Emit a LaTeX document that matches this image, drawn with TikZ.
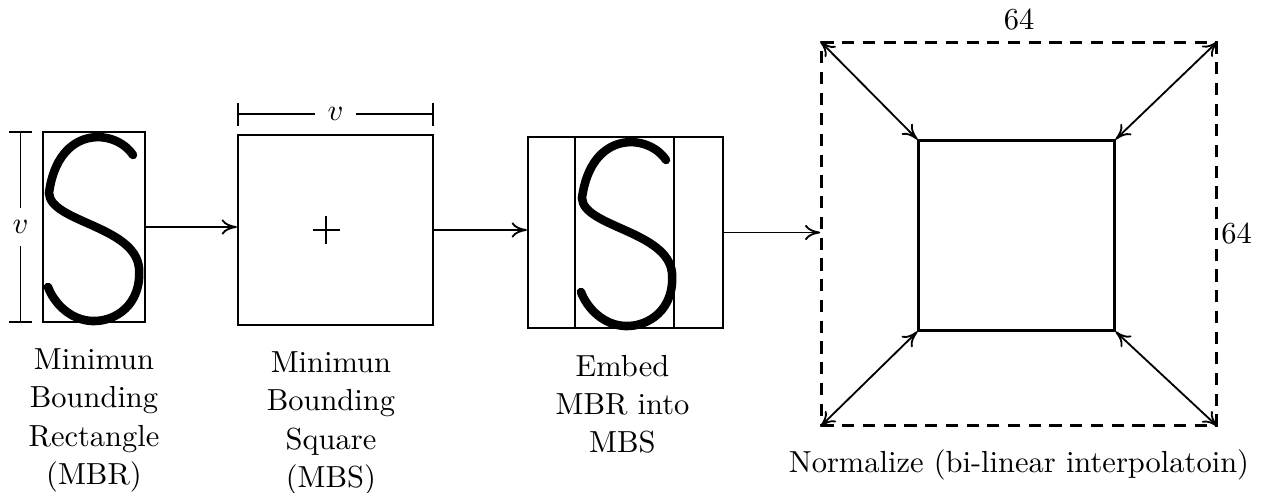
\documentclass[tikz,border=0pt]{standalone}
\usetikzlibrary{positioning,arrows.meta}
\tikzset{
  box/.style={draw,line width=0.7pt,inner sep=0pt},
  dashbox/.style={draw,line width=0.8pt,inner sep=0pt,dash pattern=on 4pt off 2.8pt},
  lbl/.style={align=center,font=\fontsize{10}{12.5}\selectfont},
  arr/.style={semithick,-{To[length=5pt,width=5pt]}},
  darr/.style={semithick,{To[length=5pt,width=5pt]}-{To[length=5pt,width=5pt]}},
  dim/.style={semithick,{Bar[width=7.5pt]}-{Bar[width=7.5pt]}},
  letter/.style={line width=2.8pt,line cap=round},
  sletter/.pic={\draw[letter] (133,155) .. controls (115,128) and (58,125) .. (49,193)
      .. controls (50,222) and (135,226) .. (139,268)
      .. controls (142,305) and (115,322) .. (92,321)
      .. controls (70,320) and (54,303) .. (48,287);}
}
\begin{document}
\begin{tikzpicture}[x=0.328pt,y=-0.328pt]
    \useasboundingbox (0,0) rectangle (1261,493);
    \node[box,minimum width=33.5pt,minimum height=62.3pt] (mbr) at (94,227) {};
    \node[box,minimum width=64pt,minimum height=62.3pt] (mbs) at (335.5,230) {};
    \node[box,minimum width=64pt,minimum height=62.6pt] (embed) at (625.5,232.5) {};
    \node[dashbox,minimum width=129.6pt,minimum height=125.6pt] (outer) at (1019,234) {};
    \node[box,minimum width=64.3pt,minimum height=62.3pt] (inner) at (1016.5,235.5) {};
    \pic at (0,0) {sletter};
    \pic at (533,5) {sletter};
    \draw[line width=0.7pt] ([xshift=15.7pt]embed.north west) -- ([xshift=15.7pt]embed.south west);
    \draw[line width=0.7pt] ([xshift=-16.4pt]embed.north east) -- ([xshift=-16.4pt]embed.south east);
    \draw[semithick] ([xshift=-7.5pt]mbs.center) -- ([xshift=1.5pt]mbs.center);
    \draw[semithick] ([xshift=-3pt,yshift=4.5pt]mbs.center) -- ([xshift=-3pt,yshift=-4.5pt]mbs.center);
    \draw[dim] ([xshift=-7pt]mbr.north west) -- node[fill=white,inner sep=4pt]{$v$} ([xshift=-7pt]mbr.south west);
    \draw[dim] ([yshift=6.5pt]mbs.north west) -- node[fill=white,inner sep=4pt]{$v$} ([yshift=6.5pt]mbs.north east);
    \draw[arr] (mbr.east) -- (mbr.east -| mbs.west);
    \draw[arr] (mbs.east) -- (mbs.east -| embed.west);
    \draw[arr] (embed.east) -- (embed.east -| outer.west);
    \foreach \c in {north west,north east,south west,south east}
        \draw[darr] (outer.\c) -- (inner.\c);
    \node[above=0pt of outer] (top64) {64};
    \node[right=0pt of outer,inner sep=1pt] (side64) {64};
    \node[lbl,below=5pt of mbr] (mbrtext) {Minimun\\Bounding\\Rectangle\\(MBR)};
    \node[lbl,below=5pt of mbs,xshift=-1.5pt] (mbstext) {Minimun\\Bounding\\Square\\(MBS)};
    \node[lbl,below=5pt of embed,xshift=-1pt] (embedtext) {Embed\\MBR into\\MBS};
    \node[lbl,below=4pt of outer] (normtext) {Normalize (bi-linear interpolatoin)};
\end{tikzpicture}
\end{document}
